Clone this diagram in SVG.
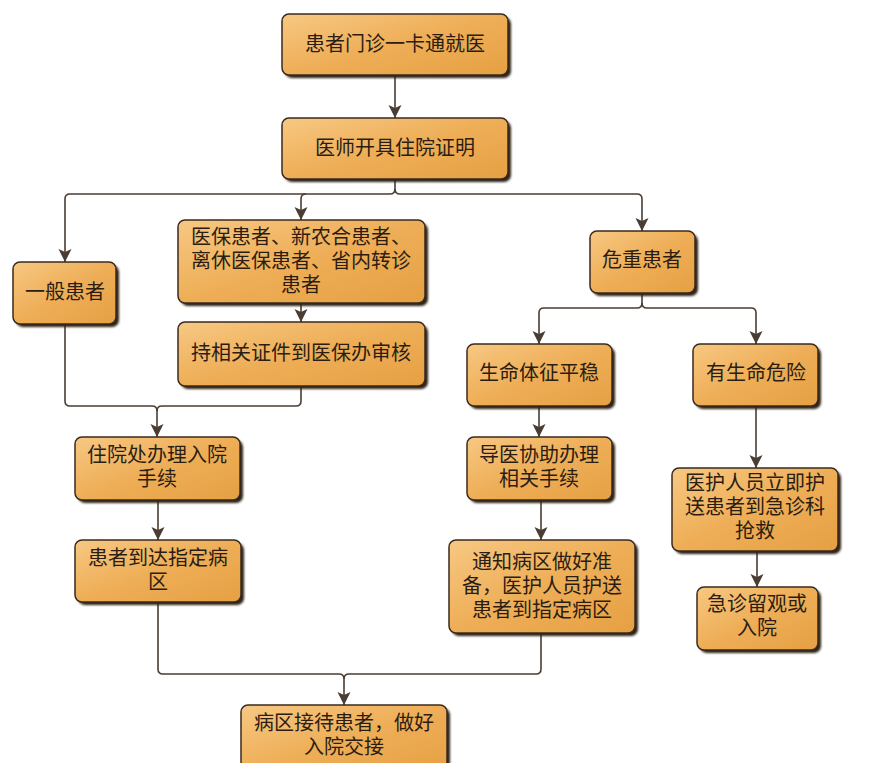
<svg xmlns="http://www.w3.org/2000/svg" width="872" height="763" viewBox="0 0 872 763">
<defs>
<linearGradient id="g" x1="0" y1="0" x2="1" y2="1">
<stop offset="0" stop-color="#F7C883"/>
<stop offset="0.5" stop-color="#EEAE57"/>
<stop offset="1" stop-color="#E6A043"/>
</linearGradient>
<marker id="arr" markerUnits="userSpaceOnUse" markerWidth="14" markerHeight="14" viewBox="0 0 14 14" refX="13" refY="7" orient="auto">
<path d="M0,0.5 L13,7 L0,13.5 L3,7 Z" fill="#4A3D33"/>
</marker>
<filter id="sh" x="-10%" y="-10%" width="130%" height="130%">
<feGaussianBlur stdDeviation="0.8"/>
</filter>
</defs>
<style>
.s{fill:#2E2219;filter:url(#sh)}
.b{fill:url(#g);stroke:#3A2A1E;stroke-width:1.5}
.t{font-family:"Liberation Sans","Noto Sans CJK SC","Noto Sans CJK JP",sans-serif;font-size:20px;fill:#2B1D12;text-anchor:middle;dominant-baseline:central}
.c{fill:none;stroke:#4A3D33;stroke-width:1.6}
.a{marker-end:url(#arr)}
</style>
<rect width="872" height="763" fill="#FFFFFF"/>
<g id="connectors">
<path class="c a" d="M395,75 V118"/>
<path class="c" d="M395,179 V189 Q395,194 390,194 H70 Q65,194 65,199"/>
<path class="c a" d="M65,199 V262"/>
<path class="c" d="M395,189 Q395,194 400,194 H637 Q642,194 642,199"/>
<path class="c a" d="M642,199 V231"/>
<path class="c a" d="M306,194 Q301,194 301,199 V220"/>
<path class="c a" d="M301,303 V322"/>
<path class="c" d="M65,324 V401 Q65,406 70,406 H152 Q157,406 157,411"/>
<path class="c" d="M301,386 V401 Q301,406 296,406 H162 Q157,406 157,411"/>
<path class="c a" d="M157,411 V437"/>
<path class="c a" d="M158,500 V540"/>
<path class="c" d="M642,293 V303 Q642,308 637,308 H544 Q539,308 539,313"/>
<path class="c a" d="M539,313 V344"/>
<path class="c" d="M642,303 Q642,308 647,308 H751 Q756,308 756,313"/>
<path class="c a" d="M756,313 V344"/>
<path class="c a" d="M539,406 V437"/>
<path class="c a" d="M541,500 V540"/>
<path class="c a" d="M756,406 V468"/>
<path class="c a" d="M757,551 V587"/>
<path class="c" d="M158,602 V669 Q158,674 163,674 H339 Q344,674 344,679"/>
<path class="c" d="M541,633 V669 Q541,674 536,674 H349 Q344,674 344,679"/>
<path class="c a" d="M344,679 V705"/>
</g>
<g id="n1"><rect class="s" x="285" y="17" width="226" height="61" rx="7"/><rect class="b" x="282" y="14" width="226" height="61" rx="7"/><text class="t" x="395" y="44">患者门诊一卡通就医</text></g>
<g id="n2"><rect class="s" x="285" y="121" width="226" height="61" rx="7"/><rect class="b" x="282" y="118" width="226" height="61" rx="7"/><text class="t" x="395" y="148">医师开具住院证明</text></g>
<g id="n3"><rect class="s" x="16" y="265" width="103" height="62" rx="7"/><rect class="b" x="13" y="262" width="103" height="62" rx="7"/><text class="t" x="65" y="292">一般患者</text></g>
<g id="n4"><rect class="s" x="181" y="223" width="247" height="83" rx="7"/><rect class="b" x="178" y="220" width="247" height="83" rx="7"/><text class="t" x="301" y="237">医保患者、新农合患者、</text><text class="t" x="301" y="261">离休医保患者、省内转诊</text><text class="t" x="301" y="285">患者</text></g>
<g id="n5"><rect class="s" x="181" y="325" width="247" height="64" rx="7"/><rect class="b" x="178" y="322" width="247" height="64" rx="7"/><text class="t" x="301" y="353">持相关证件到医保办审核</text></g>
<g id="n6"><rect class="s" x="78" y="440" width="165" height="63" rx="7"/><rect class="b" x="75" y="437" width="165" height="63" rx="7"/><text class="t" x="157" y="455">住院处办理入院</text><text class="t" x="157" y="479">手续</text></g>
<g id="n7"><rect class="s" x="78" y="543" width="166" height="62" rx="7"/><rect class="b" x="75" y="540" width="166" height="62" rx="7"/><text class="t" x="158" y="558">患者到达指定病</text><text class="t" x="158" y="582">区</text></g>
<g id="n8"><rect class="s" x="244" y="708" width="206" height="70" rx="7"/><rect class="b" x="241" y="705" width="206" height="70" rx="7"/><text class="t" x="344" y="723">病区接待患者，做好</text><text class="t" x="344" y="747">入院交接</text></g>
<g id="n9"><rect class="s" x="593" y="234" width="105" height="62" rx="7"/><rect class="b" x="590" y="231" width="105" height="62" rx="7"/><text class="t" x="642" y="260">危重患者</text></g>
<g id="n10"><rect class="s" x="470" y="347" width="145" height="62" rx="7"/><rect class="b" x="467" y="344" width="145" height="62" rx="7"/><text class="t" x="539" y="373">生命体征平稳</text></g>
<g id="n11"><rect class="s" x="696" y="347" width="125" height="62" rx="7"/><rect class="b" x="693" y="344" width="125" height="62" rx="7"/><text class="t" x="756" y="373">有生命危险</text></g>
<g id="n12"><rect class="s" x="470" y="440" width="145" height="63" rx="7"/><rect class="b" x="467" y="437" width="145" height="63" rx="7"/><text class="t" x="539" y="455">导医协助办理</text><text class="t" x="539" y="479">相关手续</text></g>
<g id="n13"><rect class="s" x="452" y="543" width="186" height="93" rx="7"/><rect class="b" x="449" y="540" width="186" height="93" rx="7"/><text class="t" x="542" y="562">通知病区做好准</text><text class="t" x="542" y="586">备，医护人员护送</text><text class="t" x="542" y="610">患者到指定病区</text></g>
<g id="n14"><rect class="s" x="675" y="471" width="166" height="83" rx="7"/><rect class="b" x="672" y="468" width="166" height="83" rx="7"/><text class="t" x="755" y="483">医护人员立即护</text><text class="t" x="755" y="507">送患者到急诊科</text><text class="t" x="755" y="531">抢救</text></g>
<g id="n15"><rect class="s" x="700" y="590" width="121" height="63" rx="7"/><rect class="b" x="697" y="587" width="121" height="63" rx="7"/><text class="t" x="757" y="604">急诊留观或</text><text class="t" x="757" y="628">入院</text></g>
</svg>
